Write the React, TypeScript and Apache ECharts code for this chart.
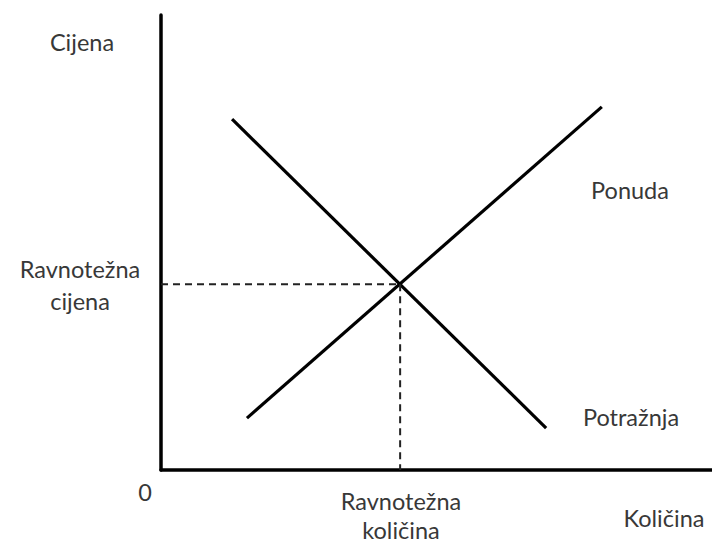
import React, { useEffect, useRef } from "react";
import * as echarts from "echarts";

const demandLine: [number, number][] = [[12.9, 77.1], [69.9, 9.2]];
const supplyLine: [number, number][] = [[15.6, 11.4], [80.0, 79.8]];
const equilibrium: [number, number] = [43.4, 40.8];
const labels = {
  yName: "Cijena",
  xName: "Količina",
  origin: "0",
  eqPrice: "Ravnotežna\ncijena",
  eqQty: "Ravnotežna\nkoličina",
  supply: "Ponuda",
  demand: "Potražnja",
};

export default function App() {
  const ref = useRef<HTMLDivElement>(null);
  useEffect(() => {
    if (!ref.current) return;
    const chart = echarts.init(ref.current, undefined, { renderer: "svg" });
    const font = "Lato, 'Open Sans', sans-serif";
    const txt = (x: number, y: number, text: string, lh = 30) => ({
      type: "text",
      x,
      y,
      style: {
        text,
        fill: "#383838",
        font: `23.5px ${font}`,
        align: "center",
        verticalAlign: "middle",
        lineHeight: lh,
      },
    });
    chart.setOption({
      animation: false,
      backgroundColor: "#ffffff",
      grid: { left: 161, top: 15, right: 0, bottom: 72 },
      xAxis: {
        type: "value",
        min: 0,
        max: 100,
        axisLine: { show: true, lineStyle: { color: "#000", width: 3.5 } },
        axisTick: { show: false },
        axisLabel: { show: false },
        splitLine: { show: false },
      },
      yAxis: {
        type: "value",
        min: 0,
        max: 100,
        axisLine: { show: true, lineStyle: { color: "#000", width: 3.5 } },
        axisTick: { show: false },
        axisLabel: { show: false },
        splitLine: { show: false },
      },
      series: [
        {
          type: "line",
          data: demandLine,
          symbol: "none",
          lineStyle: { color: "#000", width: 3.2 },
        },
        {
          type: "line",
          data: supplyLine,
          symbol: "none",
          lineStyle: { color: "#000", width: 3.2 },
        },
        {
          type: "line",
          data: [[0, equilibrium[1]], equilibrium],
          symbol: "none",
          lineStyle: { color: "#222", width: 2, type: [7, 5] },
        },
        {
          type: "line",
          data: [equilibrium, [equilibrium[0], 0]],
          symbol: "none",
          lineStyle: { color: "#222", width: 2, type: [7, 5] },
        },
      ],
      graphic: [
        txt(82, 42, labels.yName),
        txt(80, 285, labels.eqPrice, 32),
        txt(145, 492, labels.origin),
        txt(401, 515, labels.eqQty, 29),
        txt(664, 518, labels.xName),
        txt(630, 190, labels.supply),
        txt(631, 417, labels.demand),
      ],
    });
    return () => chart.dispose();
  }, []);
  return <div ref={ref} style={{ width: 712, height: 542, position: "absolute", left: 0, top: 0 }} />;
}
